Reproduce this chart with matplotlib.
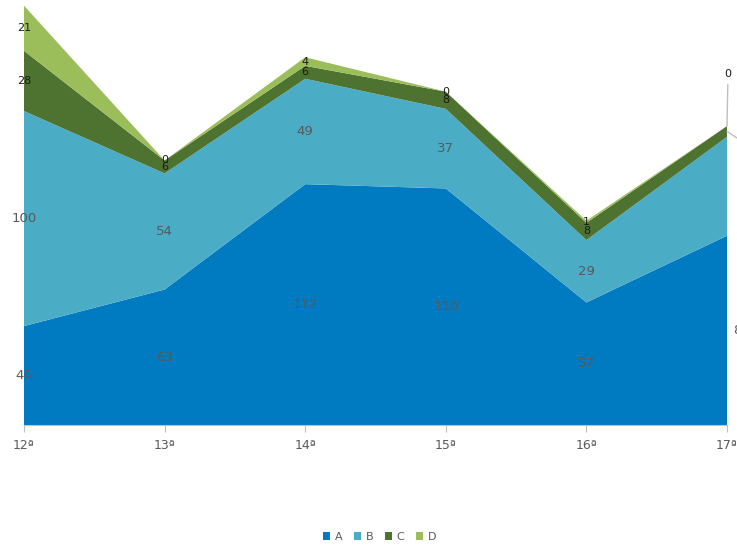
import matplotlib
matplotlib.use("Agg")
import matplotlib.pyplot as plt
import numpy as np

categories = ["12ª", "13ª", "14ª", "15ª", "16ª", "17ª"]
series_names = ["A", "B", "C", "D"]
a_vals = [46, 63, 112, 110, 57, 88]
b_vals = [100, 54, 49, 37, 29, 46]
c_vals = [28, 6, 6, 8, 8, 5]
d_vals = [21, 0, 4, 0, 1, 0]
colors = ["#007BC2", "#4BACC6", "#4E7230", "#9BBE5A"]

values = [a_vals, b_vals, c_vals, d_vals]
x = np.arange(len(categories))

fig = plt.figure(figsize=(7.37, 5.45), dpi=100)
ax = fig.add_axes([24 / 737, 120 / 545, 703 / 737, 423 / 545])

ax.stackplot(x, *values, colors=colors, labels=series_names, lw=0)
ax.set_xlim(x[0], x[-1])
ax.set_ylim(0, 196.7)

for s in ["top", "right", "left"]:
    ax.spines[s].set_visible(False)
ax.spines["bottom"].set_color("#BFBFBF")
ax.set_yticks([])
ax.set_xticks(x)
ax.set_xticklabels(categories, color="#595959", fontsize=9)
ax.tick_params(axis="x", color="#BFBFBF", length=5, pad=5)

# data labels at the middle of each band
last = len(x) - 1
bottoms = np.zeros(len(x))
for i, vals in enumerate(values):
    vals = np.array(vals, dtype=float)
    mids = bottoms + vals / 2
    for j, (xi, m, v) in enumerate(zip(x, mids, vals)):
        if i < 2:
            kw = dict(color="#595959", fontsize=9.5)
        else:
            kw = dict(color="#1A1A1A", fontsize=8)
        if j == last and i == 3:
            # label pushed up with a leader line
            ax.annotate(f"{int(v)}", xy=(xi, m), xytext=(1, 47),
                        textcoords="offset pixels", ha="center", va="bottom",
                        annotation_clip=False,
                        arrowprops=dict(arrowstyle="-", color="#BFBFBF", lw=1,
                                        shrinkA=2, shrinkB=0), **kw)
            continue
        if j == last and i == 2:
            # label sits off the right edge, only its leader shows
            ax.annotate(f"{int(v)}", xy=(xi, m), xytext=(18, -14),
                        textcoords="offset pixels", ha="left", va="center",
                        annotation_clip=False,
                        arrowprops=dict(arrowstyle="-", color="#BFBFBF", lw=1,
                                        shrinkA=0, shrinkB=0), **kw)
            continue
        xo = xi
        if j == last:
            xo = xi + (0.1 if i == 0 else 0.13)
        ax.text(xo, m, f"{int(v)}", ha="center", va="center", clip_on=False, **kw)
    bottoms = bottoms + vals

fig.legend(loc="lower center", bbox_to_anchor=(0.515, -0.012), ncol=4, frameon=False,
           fontsize=8, labelcolor="#595959", handlelength=0.7, handleheight=0.7,
           handletextpad=0.4, columnspacing=1.0)

fig.savefig("out.png", dpi=100)
